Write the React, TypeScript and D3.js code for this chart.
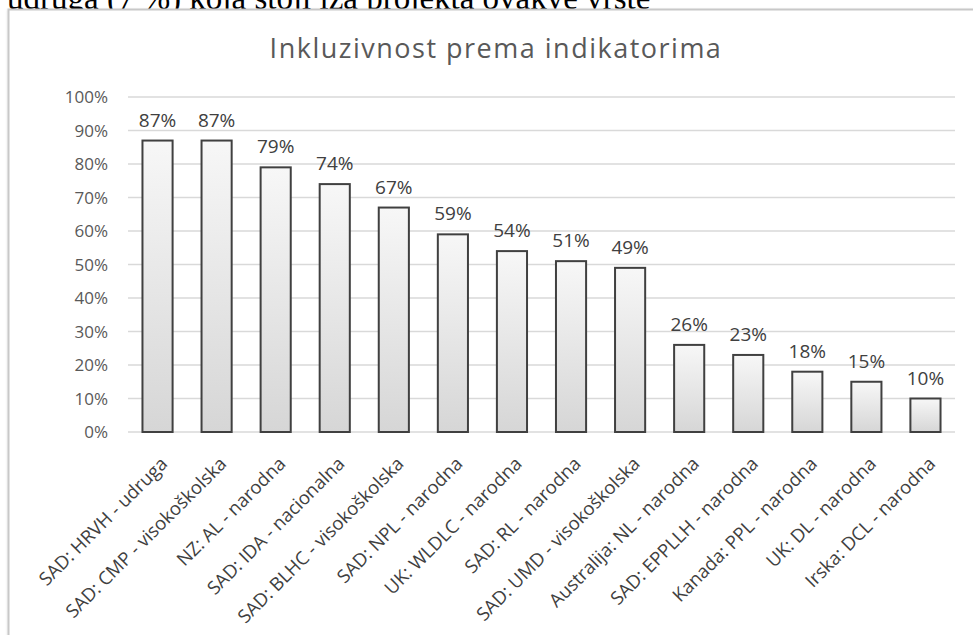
import React from 'react'
import * as d3 from 'd3'

const categories = [
  'SAD: HRVH - udruga',
  'SAD: CMP - visokoškolska',
  'NZ: AL - narodna',
  'SAD: IDA - nacionalna',
  'SAD: BLHC - visokoškolska',
  'SAD: NPL - narodna',
  'UK: WLDLC - narodna',
  'SAD: RL - narodna',
  'SAD: UMD - visokoškolska',
  'Australija: NL - narodna',
  'SAD: EPPLLH - narodna',
  'Kanada: PPL - narodna',
  'UK: DL - narodna',
  'Irska: DCL - narodna',
]
const values = [87, 87, 79, 74, 67, 59, 54, 51, 49, 26, 23, 18, 15, 10]
const yTicks = [0, 10, 20, 30, 40, 50, 60, 70, 80, 90, 100]
const title = 'Inkluzivnost prema indikatorima'
const topLine = 'udruga (7 %) koja stoji iza projekta ovakve vrste'

const W = 973
const H = 635
const font = '"Open Sans", Lato, sans-serif'

export default function App() {
  const x = d3.scaleBand<string>().domain(categories).range([128, 955]).paddingInner(0.49).paddingOuter(0.245)
  const y = d3.scaleLinear().domain([0, 100]).range([432, 97])

  return (
    <svg width={W} height={H} style={{ position: 'absolute', left: 0, top: 0, background: '#fff' }}>
      <defs>
        <linearGradient id="barFill" x1="0" y1="0" x2="0" y2="1">
          <stop offset="0" stopColor="#f7f7f7" />
          <stop offset="1" stopColor="#d6d6d6" />
        </linearGradient>
        <filter id="frameShadow" x="-5%" y="-5%" width="110%" height="110%">
          <feDropShadow dx="0" dy="1" stdDeviation="1" floodColor="#000" floodOpacity="0.15" />
        </filter>
      </defs>

      {/* text of the page above the chart, mostly hidden behind the frame */}
      <text x={7} y={9} fontFamily='"Liberation Serif", serif' fontSize={33} fill="#000">
        {topLine}
      </text>

      {/* chart frame */}
      <rect x={8.5} y={9.5} width={W + 20} height={H + 20} fill="#fff" stroke="#c8c8c8" strokeWidth={2} filter="url(#frameShadow)" />

      <text x={496} y={58} textAnchor="middle" fontFamily={font} fontSize={27} letterSpacing={1.5} fill="#595959">
        {title}
      </text>

      {/* gridlines + y labels */}
      {yTicks.map(t => (
        <g key={t}>
          <line x1={128} x2={955} y1={y(t)} y2={y(t)} stroke="#d9d9d9" strokeWidth={1.5} />
          <text x={108} y={y(t) + 6} textAnchor="end" fontFamily={font} fontSize={17} fill="#595959">
            {t}%
          </text>
        </g>
      ))}

      {/* bars */}
      {categories.map((c, i) => (
        <g key={c}>
          <rect
            x={x(c)!}
            y={y(values[i])}
            width={x.bandwidth()}
            height={y(0) - y(values[i])}
            fill="url(#barFill)"
            stroke="#404040"
            strokeWidth={2}
          />
          <text
            x={x(c)! + x.bandwidth() / 2}
            y={y(values[i]) - 14}
            textAnchor="middle"
            fontFamily={font}
            fontSize={19}
            fill="#404040"
          >
            {values[i]}%
          </text>
          <text
            transform={`translate(${x(c)! + x.bandwidth() / 2 + 11},465) rotate(-45)`}
            textAnchor="end"
            fontFamily={font}
            fontSize={18.5}
            fill="#404040"
          >
            {c}
          </text>
        </g>
      ))}
    </svg>
  )
}
